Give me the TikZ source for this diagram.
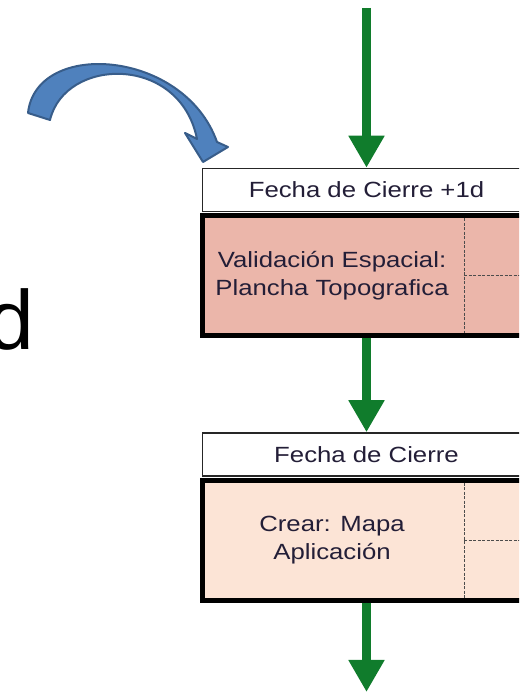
\documentclass[tikz,border=0pt]{standalone}
\usepackage{fontspec}
\setmainfont{Liberation Sans}
\newfontfamily\boxfont[FakeStretch=1.17]{Liberation Sans}
\usetikzlibrary{positioning,calc,arrows.meta}
\definecolor{flowgreen}{RGB}{16,124,44}
\definecolor{valpink}{RGB}{235,182,170}
\definecolor{mappeach}{RGB}{252,228,214}
\definecolor{bendblue}{RGB}{79,129,189}
\definecolor{bendedge}{RGB}{56,93,138}
\definecolor{boxtext}{RGB}{35,30,55}

\begin{document}
\begin{tikzpicture}[x=1pt,y=1pt,
		>={Triangle[width=34pt,length=32pt]},
		font=\boxfont\fontsize{22}{28}\selectfont,
		datebox/.style={draw=black!85,line width=1.5pt,fill=white,inner sep=0pt,
			minimum width=328pt,minimum height=43pt,text=boxtext},
		taskbox/.style={draw=black,line width=5pt,inner sep=0pt,
			minimum width=328pt,minimum height=120pt},
		tasktext/.style={align=center,text=boxtext,inner sep=0pt},
		celldiv/.style={draw=black!70,line width=0.8pt,dash pattern=on 3pt off 1.5pt},
		flow/.style={draw=flowgreen,fill=flowgreen,line width=9pt},
	]
		\useasboundingbox (0,0) rectangle (519,692);
		\clip (0,0) rectangle (519,692);

		\node[font=\fontsize{84}{84}\selectfont,anchor=base east,inner sep=0pt] (cut) at (34,342) {d};

		% curved block arrow
		\draw[fill=bendblue,draw=bendedge,line width=2pt,line join=round]
			(28,579) .. controls (36,653) and (184,643) .. (217,550)
			-- (228,545) -- (203,530) -- (185,559) -- (197,553)
			.. controls (180,638) and (65,635) .. (50,572) -- cycle;

		\coordinate (src) at (366.5,684);
		\node[datebox] (h1) at (366.5,502) {Fecha de Cierre +1d};
		\node[taskbox,fill=valpink,below=1pt of h1] (b1) {};
		\node[datebox,below=94pt of b1] (h2) {Fecha de Cierre};
		\node[taskbox,fill=mappeach,below=1pt of h2] (b2) {};
		\coordinate (sink) at (366.5,0);

		\coordinate (d1) at ([xshift=264pt]b1.west);
		\coordinate (d2) at ([xshift=264pt]b2.west);
		\node[tasktext] (t1) at ($(b1.west)!0.5!(d1)$) {Validación Espacial:\\Plancha Topografica};
		\node[tasktext] (t2) at ($(b2.west)!0.5!(d2)$) {Crear: Mapa\\Aplicación};

		\draw[celldiv,shorten <=5pt,shorten >=5pt] (d1 |- b1.north) -- (d1 |- b1.south);
		\draw[celldiv] (d1) -- (b1.east);
		\draw[celldiv,shorten <=5pt,shorten >=5pt] (d2 |- b2.north) -- (d2 |- b2.south);
		\draw[celldiv] (d2) -- (b2.east);

		\path[->]
			(src) edge[flow] (h1)
			(b1)  edge[flow] (h2)
			(b2)  edge[flow] (sink)
		;
	\end{tikzpicture}
\end{document}
